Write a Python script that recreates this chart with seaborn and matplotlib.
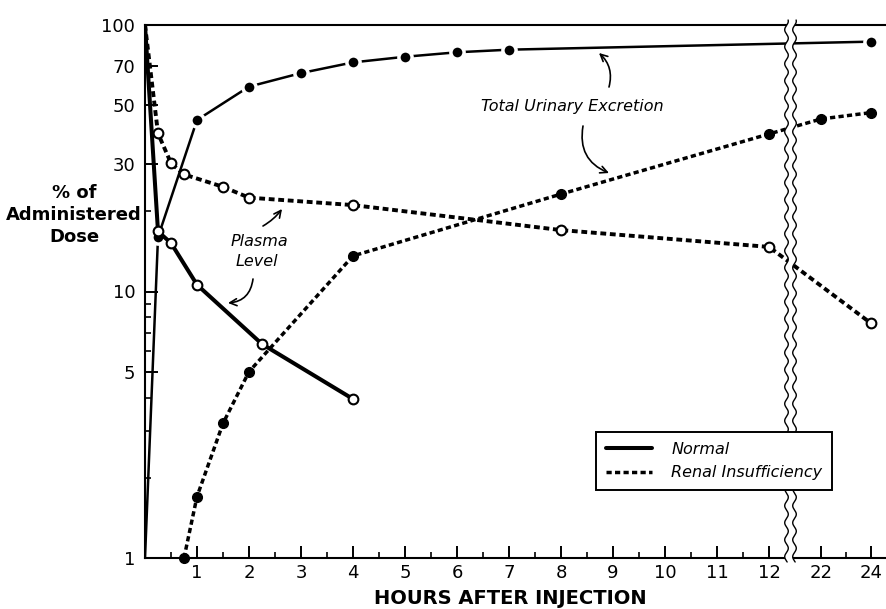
import numpy as np
import matplotlib
matplotlib.use("Agg")
import matplotlib.pyplot as plt
import seaborn as sns
from matplotlib.lines import Line2D
from matplotlib.patches import Polygon
from matplotlib.ticker import NullFormatter

# ---------------- data (hours after injection, % of administered dose) -------------
normal_plasma_h = [0, 0.25, 0.5, 1, 2.25, 4]
normal_plasma_v = [100, 16.8, 15.2, 10.6, 6.35, 3.95]

normal_urine_h = [0, 0.25, 1, 2, 3, 4, 5, 6, 7, 24]
normal_urine_v = [1, 16, 44, 58.7, 66, 72.4, 76, 79, 80.8, 86.6]

renal_plasma_h = [0, 0.25, 0.5, 0.75, 1.5, 2, 4, 8, 12, 24]
renal_plasma_v = [100, 39.2, 30.3, 27.5, 24.7, 22.5, 21.1, 17.0, 14.7, 7.6]

renal_urine_h = [0.75, 1, 1.5, 2, 4, 8, 12, 22, 24]
renal_urine_v = [1.0, 1.7, 3.2, 5.0, 13.6, 23.2, 39.0, 44.4, 46.9]

y_ticks = [1, 5, 10, 30, 50, 70, 100]
y_ticklabels = ["1", "5", "10", "30", "50", "70", "100"]
x_ticks = [1, 2, 3, 4, 5, 6, 7, 8, 9, 10, 11, 12, 22, 24]
x_ticklabels = ["1", "2", "3", "4", "5", "6", "7", "8", "9", "10", "11", "12", "22", "24"]
legend_labels = ["Normal", "Renal Insufficiency"]

# ---------------- style ----------------
sns.set_style("ticks", {"axes.edgecolor": "black", "xtick.color": "black",
                        "ytick.color": "black", "xtick.direction": "in",
                        "ytick.direction": "in", "text.color": "black",
                        "axes.labelcolor": "black"})
plt.rcParams["font.family"] = ["DejaVu Sans"]
plt.rcParams["text.color"] = "black"

W, H = 887, 609
fig = plt.figure(figsize=(W / 100, H / 100), dpi=100)
ax = fig.add_axes([145 / W, 1 - 558 / H, 742 / W, 533 / H])

# broken time axis: 0-12.35 h on the left, 20.9-24.6 h on the right
HB1, HB2 = 12.346, 20.88


def fwd(h):
    h = np.asarray(h, dtype=float)
    return np.where(h <= HB1, 52 * h,
                    np.where(h >= HB2, 648 + 25 * (h - HB2),
                             642 + (h - HB1) * 6 / (HB2 - HB1)))


def inv(u):
    u = np.asarray(u, dtype=float)
    return np.where(u <= 642, u / 52,
                    np.where(u >= 648, HB2 + (u - 648) / 25,
                             HB1 + (u - 642) * (HB2 - HB1) / 6))


dots = (0, (1.5, 0.95))

# normal - urinary excretion
sns.lineplot(x=normal_urine_h, y=normal_urine_v, ax=ax, color="black", lw=1.8,
             marker="o", ms=9.5, mfc="black", mec="white", mew=2.5,
             markevery=list(range(1, len(normal_urine_h))), zorder=2.1)
# normal - plasma level
sns.lineplot(x=normal_plasma_h, y=normal_plasma_v, ax=ax, color="black", lw=2.9,
             marker="o", ms=7, mfc="white", mec="black", mew=1.5,
             markevery=list(range(1, len(normal_plasma_h))), zorder=2.3)
# renal - urinary excretion
sns.lineplot(x=renal_urine_h, y=renal_urine_v, ax=ax, color="black", lw=2.5,
             linestyle=dots, marker="o", ms=7, mfc="black", mec="black", mew=1,
             clip_on=False, zorder=2.2)
# renal - plasma level
sns.lineplot(x=renal_plasma_h, y=renal_plasma_v, ax=ax, color="black", lw=2.8,
             linestyle=dots, marker="o", ms=7, mfc="white", mec="black", mew=1.5,
             markevery=list(range(1, len(renal_plasma_h))), zorder=2.2)

ax.set_xscale("function", functions=(fwd, inv))
ax.set_yscale("log")
ax.set_xlim(0, 24.64)
ax.set_ylim(1, 100)

ax.set_yticks(y_ticks)
ax.set_yticklabels(y_ticklabels)
ax.set_yticks([2, 3, 4, 6, 7, 8, 9, 20], minor=True)
ax.yaxis.set_minor_formatter(NullFormatter())
ax.set_xticks(x_ticks)
ax.set_xticklabels(x_ticklabels)
ax.set_xticks([0.5, 1.5, 2.5, 3.5, 4.5, 5.5, 6.5, 7.5, 8.5, 9.5, 10.5, 11.5, 23],
              minor=True)
ax.xaxis.set_minor_formatter(NullFormatter())
ax.tick_params(axis="both", which="major", direction="in", length=9, width=1.4,
               labelsize=13, labelcolor="black")
ax.tick_params(axis="both", which="minor", direction="in", length=4.5, width=1.2)
ax.tick_params(axis="y", pad=7)
ax.tick_params(axis="x", pad=4)
ax.set_xlabel("")
ax.set_ylabel("")
for side in ["left", "bottom", "top"]:
    ax.spines[side].set_linewidth(1.5)
ax.spines["right"].set_visible(False)

# axis break band with wavy edges
ys = np.linspace(20, 562, 500)
wave = 1.8 * np.sin(2 * np.pi * ys / 17.0)
x1 = (786.5 + wave) / W
x2 = (794.5 + wave) / W
yf = 1 - ys / H
band = Polygon(np.column_stack([np.r_[x1, x2[::-1]], np.r_[yf, yf[::-1]]]),
               closed=True, transform=fig.transFigure, fc="white", ec="none",
               zorder=3, clip_on=False)
ax.add_patch(band)
for xx in (x1, x2):
    ax.add_line(Line2D(xx, yf, transform=fig.transFigure, color="black", lw=1.0,
                       zorder=3.1, clip_on=False))
ax.set_xlim(0, 24.64)
ax.set_ylim(1, 100)

# legend
handles = [Line2D([], [], color="black", lw=2.9),
           Line2D([], [], color="black", lw=2.5, linestyle=dots)]
leg = ax.legend(handles, legend_labels, loc="lower right",
                bbox_to_anchor=(832 / W, 1 - 490 / H), bbox_transform=fig.transFigure,
                frameon=True, fancybox=False, edgecolor="black", framealpha=1,
                prop=dict(style="italic", size=11.5), handlelength=2.9,
                handletextpad=1.2, borderpad=0.6, labelspacing=0.55,
                borderaxespad=0, labelcolor="black")
leg.get_frame().set_linewidth(1.4)
leg.set_zorder(10)

# texts
fig.text(74 / W, 1 - 215 / H, "% of\nAdministered\nDose", ha="center", va="center",
         fontsize=13, fontweight="bold", linespacing=1.25, color="black")
fig.text(510 / W, 1 - 598 / H, "HOURS AFTER INJECTION", ha="center", va="center",
         fontsize=14, fontweight="bold", color="black")
fig.text(572 / W, 1 - 107 / H, "Total Urinary Excretion", ha="center", va="center",
         fontsize=11.5, style="italic", color="black")
fig.text(259 / W, 1 - 241 / H, "Plasma", ha="center", va="center",
         fontsize=11.5, style="italic", color="black")
fig.text(257 / W, 1 - 262 / H, "Level", ha="center", va="center",
         fontsize=11.5, style="italic", color="black")


def arrow(tail, head, rad):
    ax.annotate("", xy=(head[0], H - head[1]), xytext=(tail[0], H - tail[1]),
                xycoords="figure pixels", textcoords="figure pixels",
                arrowprops=dict(arrowstyle="->,head_length=0.5,head_width=0.25",
                                lw=1.2, color="black", shrinkA=0, shrinkB=0,
                                connectionstyle=f"arc3,rad={rad}"))


arrow((609, 87), (599, 53), 0.3)
arrow((583, 126), (609, 173), 0.4)
arrow((263, 226), (282, 209), 0.1)
arrow((253, 279), (228, 303), -0.4)

fig.savefig("out.png", dpi=100)
